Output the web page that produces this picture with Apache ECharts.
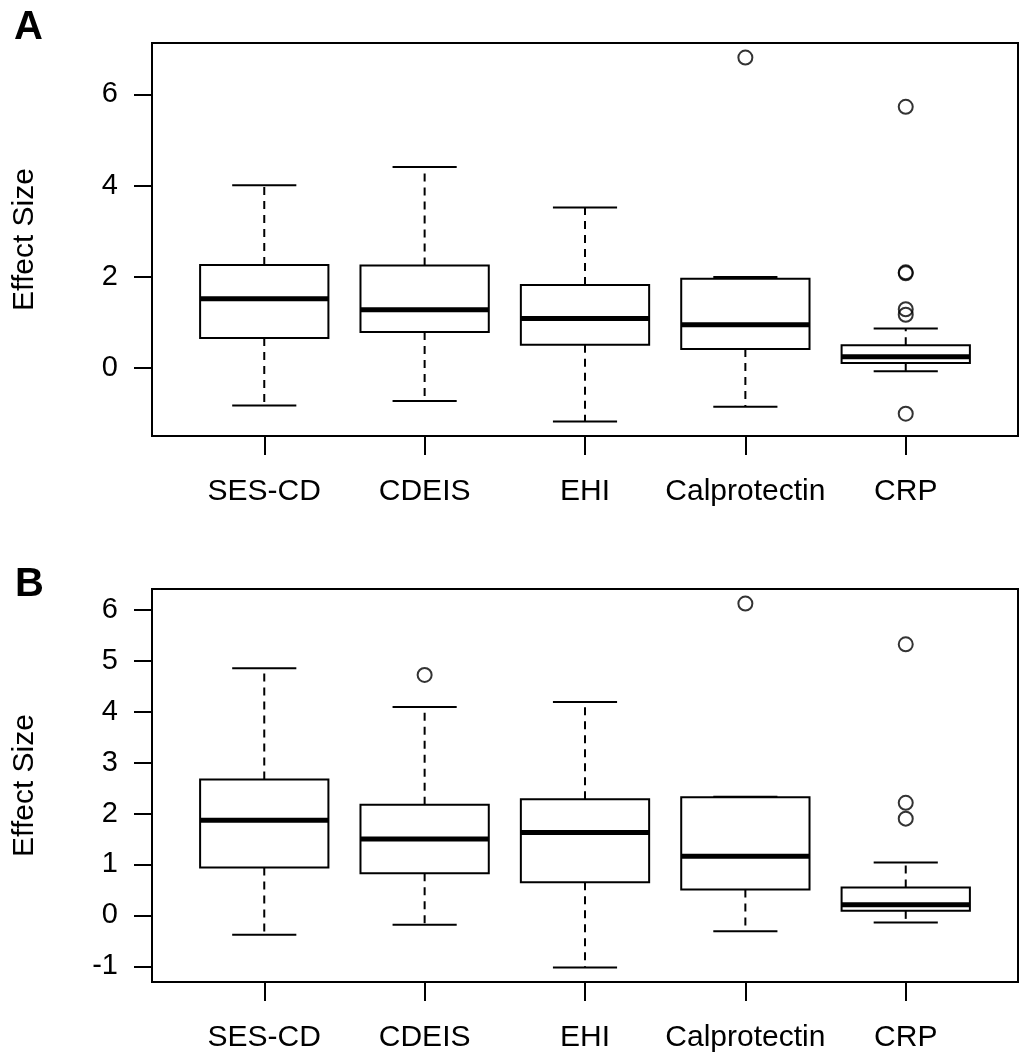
<!DOCTYPE html>
<html>
<head>
<meta charset="utf-8">
<script src="https://cdn.jsdelivr.net/npm/echarts@6/dist/echarts.min.js"></script>
<style>
  html, body { margin: 0; background: #fff; }
  #chart { width: 1022px; height: 1054px; }
</style>
</head>
<body>
<div id="chart"></div>
<script>
// ---- data ----
const categories = ['SES-CD', 'CDEIS', 'EHI', 'Calprotectin', 'CRP'];

// [lower whisker, Q1, median, Q3, upper whisker]
const statsA = [
    [-0.82, 0.66, 1.52, 2.26, 4.01],
    [-0.72, 0.79, 1.28, 2.25, 4.41],
    [-1.17, 0.51, 1.09, 1.82, 3.52],
    [-0.85, 0.42, 0.95, 1.96, 2.00],
    [-0.07, 0.11, 0.25, 0.50, 0.87]
];
// [category position, value]
const outliersA = [
    [4, 6.81],
    [5, 5.73], [5, 2.10], [5, 2.08], [5, 1.29], [5, 1.17], [5, -1.00]
];
const yTicksA = [0, 2, 4, 6];

const statsB = [
    [-0.38, 0.94, 1.87, 2.67, 4.85],
    [-0.18, 0.83, 1.50, 2.17, 4.09],
    [-1.02, 0.65, 1.63, 2.28, 4.19],
    [-0.31, 0.51, 1.16, 2.32, 2.33],
    [-0.14, 0.09, 0.21, 0.55, 1.04]
];
const outliersB = [
    [2, 4.72],
    [4, 6.12],
    [5, 5.32], [5, 2.21], [5, 1.90]
];
const yTicksB = [-1, 0, 1, 2, 3, 4, 5, 6];

const xTicks = [1, 2, 3, 4, 5];

const FONT = '"Liberation Sans", Arial, Helvetica, sans-serif';

// R style axis range: data range padded by 4% each side
function rRange(stats, outs) {
    let vals = [];
    stats.forEach(s => { vals = vals.concat(s); });
    outs.forEach(o => vals.push(o[1]));
    let lo = Math.min.apply(null, vals), hi = Math.max.apply(null, vals);
    let pad = (hi - lo) * 0.04;
    return [lo - pad, hi + pad];
}

function renderBox(params, api) {
    let x = api.value(0);
    let lo = api.coord([x, api.value(1)]);
    let q1 = api.coord([x, api.value(2)]);
    let med = api.coord([x, api.value(3)]);
    let q3 = api.coord([x, api.value(4)]);
    let hi = api.coord([x, api.value(5)]);
    let hw = api.size([0.8, 0])[0] / 2;
    let cw = hw / 2;
    let cx = lo[0];
    let solid = { stroke: '#000', lineWidth: 2 };
    let dashed = { stroke: '#000', lineWidth: 2, lineDash: [8, 6] };
    return {
        type: 'group',
        children: [
            { type: 'line', shape: { x1: cx, y1: q3[1], x2: cx, y2: hi[1] }, style: dashed },
            { type: 'line', shape: { x1: cx, y1: q1[1], x2: cx, y2: lo[1] }, style: dashed },
            { type: 'line', shape: { x1: cx - cw, y1: hi[1], x2: cx + cw, y2: hi[1] }, style: solid },
            { type: 'line', shape: { x1: cx - cw, y1: lo[1], x2: cx + cw, y2: lo[1] }, style: solid },
            { type: 'rect', shape: { x: cx - hw, y: q3[1], width: hw * 2, height: q1[1] - q3[1] },
              style: { fill: 'none', stroke: '#000', lineWidth: 2 } },
            { type: 'line', shape: { x1: cx - hw, y1: med[1], x2: cx + hw, y2: med[1] },
              style: { stroke: '#000', lineWidth: 5 } }
        ]
    };
}

function xAxisFor(idx) {
    return {
        type: 'value',
        gridIndex: idx,
        position: 'bottom',
        min: 0.3,
        max: 5.7,
        axisLine: { show: false, onZero: false },
        splitLine: { show: false },
        axisTick: { show: true, customValues: xTicks, length: 19, lineStyle: { color: '#000', width: 2 } },
        axisLabel: {
            customValues: xTicks,
            formatter: v => categories[v - 1],
            color: '#000', fontSize: 30, fontFamily: FONT, margin: 41
        }
    };
}

function yAxisFor(idx, range, ticks) {
    return {
        type: 'value',
        gridIndex: idx,
        min: range[0],
        max: range[1],
        name: 'Effect Size',
        nameLocation: 'middle',
        nameGap: 112,
        nameTextStyle: { color: '#000', fontSize: 30, fontFamily: FONT },
        axisLine: { show: false, onZero: false },
        splitLine: { show: false },
        axisTick: { show: true, customValues: ticks, length: 18, lineStyle: { color: '#000', width: 2 } },
        axisLabel: { customValues: ticks, color: '#000', fontSize: 29, fontFamily: FONT, margin: 34 }
    };
}

function boxSeries(idx, stats) {
    return {
        type: 'custom',
        xAxisIndex: idx,
        yAxisIndex: idx,
        renderItem: renderBox,
        encode: { x: 0, y: [1, 2, 3, 4, 5] },
        data: stats.map((s, i) => [i + 1].concat(s)),
        z: 3
    };
}

function outlierSeries(idx, outs) {
    return {
        type: 'scatter',
        xAxisIndex: idx,
        yAxisIndex: idx,
        symbol: 'circle',
        symbolSize: 14,
        itemStyle: { color: 'rgba(0,0,0,0)', borderColor: '#000', borderWidth: 2 },
        data: outs,
        z: 4
    };
}

var chart = echarts.init(document.getElementById('chart'));
var rangeA = rRange(statsA, outliersA);
var rangeB = rRange(statsB, outliersB);

var option = {
    animation: false,
    backgroundColor: '#fff',
    title: [
        { text: 'A', left: 9, top: 3, textStyle: { fontSize: 40, fontWeight: 'bold', color: '#000', fontFamily: FONT } },
        { text: 'B', left: 10, top: 560, textStyle: { fontSize: 40, fontWeight: 'bold', color: '#000', fontFamily: FONT } }
    ],
    grid: [
        { left: 152, top: 43, width: 866, height: 393, show: true, borderColor: '#000', borderWidth: 2, backgroundColor: 'transparent' },
        { left: 152, top: 589, width: 866, height: 393, show: true, borderColor: '#000', borderWidth: 2, backgroundColor: 'transparent' }
    ],
    xAxis: [xAxisFor(0), xAxisFor(1)],
    yAxis: [yAxisFor(0, rangeA, yTicksA), yAxisFor(1, rangeB, yTicksB)],
    series: [
        boxSeries(0, statsA),
        outlierSeries(0, outliersA),
        boxSeries(1, statsB),
        outlierSeries(1, outliersB)
    ]
};
chart.setOption(option);
</script>
</body>
</html>
